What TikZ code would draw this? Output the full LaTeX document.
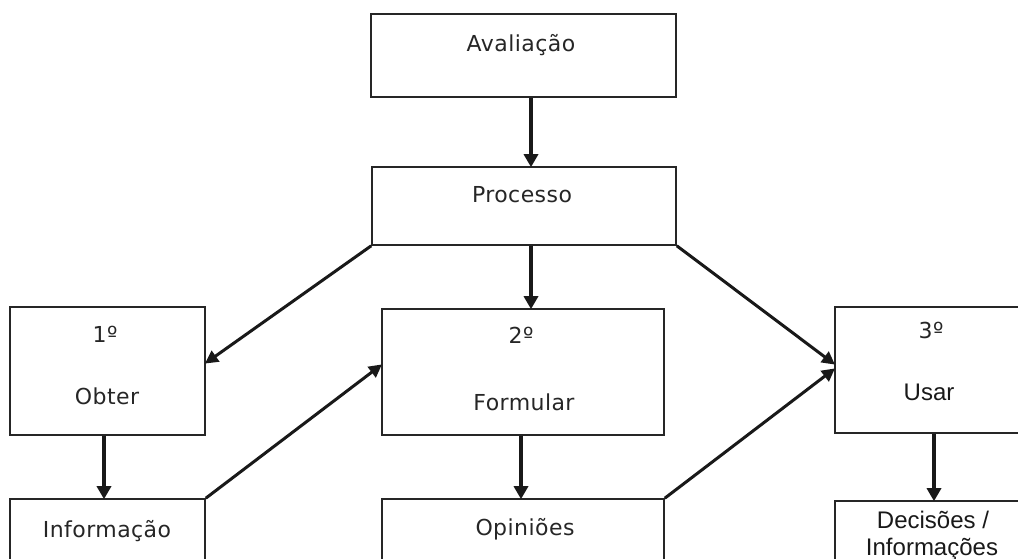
\documentclass[tikz,border=0pt]{standalone}
\usepackage{fontspec}
\setmainfont{DejaVu Sans}[LetterSpace=2]
\newfontfamily\arialf{Liberation Sans}
\usetikzlibrary{arrows.meta}
\tikzset{
  box/.style={draw=black!85, line width=1.6pt, fill=none, rectangle, inner sep=0pt},
  lbl/.style={anchor=base, inner sep=0pt, font=\fontsize{22}{25}\selectfont, text=black!85},
  albl/.style={anchor=base, inner sep=0pt, font=\arialf\fontsize{24}{27}\selectfont, text=black!90},
  arr/.style={line width=4pt, black!90, -{Triangle[length=13pt,width=14pt]}, shorten >=-1pt},
  darr/.style={line width=3pt, black!90, -{Triangle[length=13pt,width=13pt]}, shorten >=-1pt}
}
\begin{document}
\begin{tikzpicture}[x=1pt,y=-1pt]
\useasboundingbox (0,0) rectangle (1018,559);
\clip (0,0) rectangle (1018,559);
% boxes
\node[box, minimum width=305pt, minimum height=83pt] (aval) at (523.5,55.5) {};
\node[box, minimum width=304pt, minimum height=78pt] (proc) at (524,206) {};
\node[box, minimum width=195pt, minimum height=128pt] (b1) at (107.5,371) {};
\node[box, minimum width=195pt, minimum height=101pt] (info) at (107.5,549.5) {};
\node[box, minimum width=282pt, minimum height=126pt] (b2) at (523,372) {};
\node[box, minimum width=282pt, minimum height=101pt] (opin) at (523,549.5) {};
\node[box, minimum width=215pt, minimum height=126pt] (b3) at (942.5,370) {};
\node[box, minimum width=215pt, minimum height=99pt] (dec) at (942.5,550.5) {};
% texts
\node[lbl] (tAval) at (521,52) {Avaliação};
\node[lbl] (tProc) at (522,202) {Processo};
\node[lbl] (t1) at (105,342) {1º};
\node[lbl] (tObter) at (107,404) {Obter};
\node[lbl] (tInfo) at (107,537) {Informação};
\node[lbl] (t2) at (521,343) {2º};
\node[lbl] (tForm) at (524,410) {Formular};
\node[lbl] (tOpin) at (525,535) {Opiniões};
\node[lbl] (t3) at (931,338) {3º};
\node[albl] (tUsar) at (929,400) {Usar};
\node[albl] (tDec1) at (933,528) {Decisões /};
\node[albl] (tDec2) at (932,555) {Informações};
% connectors
\draw[arr] ([xshift=7.5pt]aval.south) -- ([xshift=7pt]proc.north);
\draw[arr] ([xshift=7pt]proc.south) -- ([xshift=8pt]b2.north);
\draw[darr] (proc.south west) -- ([yshift=8pt]b1.east);
\draw[darr] (proc.south east) -- ([yshift=6pt]b3.west);
\draw[arr] ([xshift=-3.5pt]b1.south) -- ([xshift=-3.5pt]info.north);
\draw[darr] (info.north east) -- ([yshift=7pt]b2.west);
\draw[arr] ([xshift=-2pt]b2.south) -- ([xshift=-2pt]opin.north);
\draw[darr] (opin.north east) -- ([yshift=1pt]b3.west);
\draw[arr] ([xshift=-8.5pt]b3.south) -- ([xshift=-8.5pt]dec.north);
\end{tikzpicture}
\end{document}
